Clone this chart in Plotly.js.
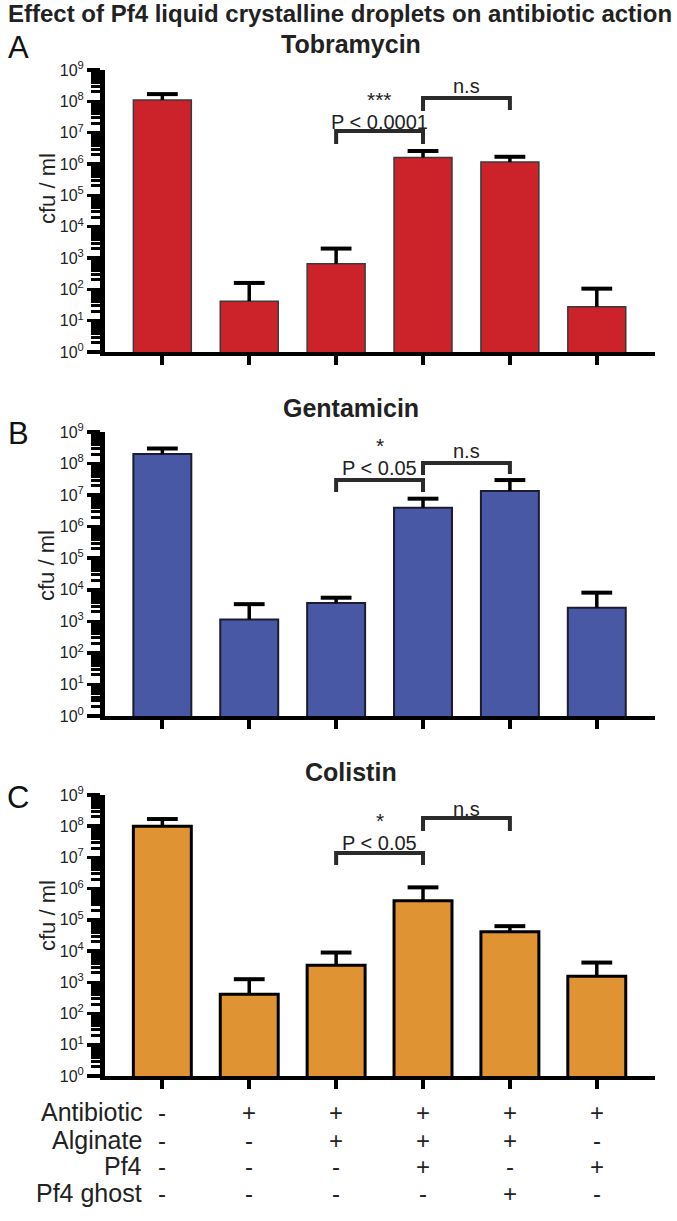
<!DOCTYPE html>
<html><head><meta charset="utf-8">
<script src="https://cdn.plot.ly/plotly-3.0.1.min.js"></script>
<style>html,body{margin:0;padding:0;background:#fff}</style>
</head><body><div id="chart" style="width:677px;height:1221px"></div>
<script>
// ---- data ----
const categories = ['Control', 'Antibiotic', 'Antibiotic+Alginate', 'Antibiotic+Alginate+Pf4', 'Antibiotic+Alginate+Pf4 ghost', 'Antibiotic+Pf4'];
const tobramycinMean  = [1.1e8, 42, 660, 1.6e6, 1.15e6, 28];
const tobramycinUpper = [1.7e8, 160, 2000, 2.6e6, 1.7e6, 105];
const gentamicinMean  = [2.0e8, 1150, 3800, 4.0e6, 1.35e7, 2700];
const gentamicinUpper = [3.0e8, 3500, 5600, 7.7e6, 3.0e7, 8100];
const colistinMean    = [1.0e8, 415, 3500, 4.1e5, 4.2e4, 1580];
const colistinUpper   = [1.7e8, 1260, 9000, 1.1e6, 6.3e4, 4300];
const panelNames = ['Tobramycin', 'Gentamicin', 'Colistin'];
const panelLetters = ['A', 'B', 'C'];
const tickValues = [1, 10, 100, 1e3, 1e4, 1e5, 1e6, 1e7, 1e8, 1e9];
const tickLabels = ['10<sup>0</sup>','10<sup>1</sup>','10<sup>2</sup>','10<sup>3</sup>','10<sup>4</sup>','10<sup>5</sup>','10<sup>6</sup>','10<sup>7</sup>','10<sup>8</sup>','10<sup>9</sup>'];
const sigLabels = [['***', 'P < 0.0001', 'n.s'], ['*', 'P < 0.05', 'n.s'], ['*', 'P < 0.05', 'n.s']];
const rowLabels = ['Antibiotic', 'Alginate', 'Pf4', 'Pf4 ghost'];
const antibioticRow = ['-', '+', '+', '+', '+', '+'];
const alginateRow   = ['-', '-', '+', '+', '+', '-'];
const pf4Row        = ['-', '-', '-', '+', '-', '+'];
const pf4GhostRow   = ['-', '-', '-', '-', '+', '-'];

// ---- styling / layout ----
const W = 677, H = 1221;
const px = x => x / W;
const py = y => 1 - y / H;
const FONT = 'Liberation Sans, Arial, Helvetica, sans-serif';
const xIdx = categories.map((c, i) => i);

const panels = [
  {mean: tobramycinMean, upper: tobramycinUpper, fill: '#cc2229', edge: '#3a3a3a', ew: 1.5,
   top: 70, bottom: 352, title: 44, letter: 48, ytitle: 189,
   br: [[131, 144, 144], [98, 111, 110]], txt: [99, 122, 86]},
  {mean: gentamicinMean, upper: gentamicinUpper, fill: '#4858a4', edge: '#1c1c30', ew: 2,
   top: 432, bottom: 716, title: 408, letter: 434, ytitle: 566,
   br: [[480, 492, 492], [463, 475, 474]], txt: [445, 468, 451]},
  {mean: colistinMean, upper: colistinUpper, fill: '#e09332', edge: '#000000', ew: 3,
   top: 795, bottom: 1076, title: 772, letter: 797, ytitle: 916,
   br: [[853, 865, 865], [818, 831, 831]], txt: [820, 843, 809]}
];

const traces = [];
const layout = {
  width: W, height: H, margin: {l: 0, r: 0, t: 0, b: 0},
  paper_bgcolor: '#fff', plot_bgcolor: 'rgba(0,0,0,0)',
  showlegend: false, bargap: 0.333,
  font: {family: FONT, color: '#1a1a1a'},
  shapes: [], annotations: []
};

layout.annotations.push({text: '<b>Effect of Pf4 liquid crystalline droplets on antibiotic action</b>',
  xref: 'paper', yref: 'paper', x: px(340), y: py(14), xanchor: 'center', yanchor: 'middle',
  showarrow: false, font: {family: FONT, size: 24, color: '#222'}});

panels.forEach((p, k) => {
  const n = k === 0 ? '' : String(k + 1);
  const xa = 'x' + n, ya = 'y' + n;
  traces.push({
    type: 'bar', x: xIdx, y: p.mean, xaxis: xa, yaxis: ya, width: 0.667,
    marker: {color: p.fill, line: {color: p.edge, width: p.ew}},
    error_y: {type: 'data', symmetric: false, array: p.upper.map((u, i) => u - p.mean[i]),
              arrayminus: p.mean.map(() => 0), width: 0, thickness: 3.5, color: '#000'},
    hoverinfo: 'skip'
  });
  traces.push({
    type: 'scatter', mode: 'markers', x: xIdx, y: p.upper, xaxis: xa, yaxis: ya,
    marker: {symbol: 'line-ew', size: 22, line: {width: 4, color: '#000'}, color: '#000'},
    hoverinfo: 'skip'
  });
  layout['xaxis' + n] = {
    domain: [px(105), px(655)], range: [-0.66, 5.67], anchor: ya,
    showline: true, linewidth: 4, linecolor: '#000', ticks: 'outside', ticklen: 9, tickwidth: 4,
    tickcolor: '#000', tickvals: xIdx, showticklabels: false, showgrid: false, zeroline: false, fixedrange: true
  };
  layout['yaxis' + n] = {
    domain: [py(p.bottom), py(p.top)], type: 'log', range: [0, 9], anchor: xa,
    showline: true, linewidth: 5, linecolor: '#000', ticks: 'outside', ticklen: 13, tickwidth: 3.5,
    tickcolor: '#000', tickvals: tickValues, ticktext: tickLabels,
    tickfont: {family: FONT, size: 16, color: '#222'},
    minor: {ticks: 'outside', ticklen: 9, tickwidth: 3, tickcolor: '#000', dtick: 'D1', showgrid: false},
    showgrid: false, zeroline: false, fixedrange: true
  };
  // title / letter / y title
  layout.annotations.push({text: '<b>' + panelNames[k] + '</b>', xref: 'paper', yref: 'paper',
    x: px(351), y: py(p.title), xanchor: 'center', yanchor: 'middle', showarrow: false,
    font: {family: FONT, size: 25, color: '#222'}});
  layout.annotations.push({text: panelLetters[k], xref: 'paper', yref: 'paper',
    x: px(18), y: py(p.letter), xanchor: 'center', yanchor: 'middle', showarrow: false,
    font: {family: FONT, size: 31, color: '#111'}});
  layout.annotations.push({text: 'cfu / ml', xref: 'paper', yref: 'paper', textangle: -90,
    x: px(47), y: py(p.ytitle), xanchor: 'center', yanchor: 'middle', showarrow: false,
    font: {family: FONT, size: 22, color: '#222'}});
  // significance brackets
  const b1 = p.br[0], b2 = p.br[1];
  layout.shapes.push({type: 'path', xref: xa, yref: 'paper', line: {color: '#2b2b2b', width: 4},
    path: `M2,${py(b1[1])} L2,${py(b1[0])} L3,${py(b1[0])} L3,${py(b1[2])}`});
  layout.shapes.push({type: 'path', xref: xa, yref: 'paper', line: {color: '#2b2b2b', width: 4},
    path: `M3,${py(b2[1])} L3,${py(b2[0])} L4,${py(b2[0])} L4,${py(b2[2])}`});
  const s = sigLabels[k];
  layout.annotations.push({text: s[0], xref: xa, yref: 'paper', x: 2.5, y: py(p.txt[0]),
    xanchor: 'center', yanchor: 'middle', showarrow: false, font: {size: 21, color: '#222'}});
  layout.annotations.push({text: s[1], xref: xa, yref: 'paper', x: 2.5, y: py(p.txt[1]),
    xanchor: 'center', yanchor: 'middle', showarrow: false, font: {size: 20, color: '#222'}});
  layout.annotations.push({text: s[2], xref: xa, yref: 'paper', x: 3.5, y: py(p.txt[2]),
    xanchor: 'center', yanchor: 'middle', showarrow: false, font: {size: 20, color: '#222'}});
});

// condition table under panel C
const rows = [antibioticRow, alginateRow, pf4Row, pf4GhostRow];
const rowY = [1112, 1140, 1166, 1193];
rows.forEach((row, r) => {
  layout.annotations.push({text: rowLabels[r], xref: 'paper', yref: 'paper', x: px(144), y: py(rowY[r]),
    xanchor: 'right', yanchor: 'middle', showarrow: false, font: {size: 25, color: '#222'}});
  row.forEach((sym, i) => {
    layout.annotations.push({text: sym, xref: 'x3', yref: 'paper', x: i, y: py(rowY[r]),
      xanchor: 'center', yanchor: 'middle', showarrow: false, font: {size: 24, color: '#222'}});
  });
});

Plotly.newPlot('chart', traces, layout, {staticPlot: true, displayModeBar: false});
</script></body></html>
